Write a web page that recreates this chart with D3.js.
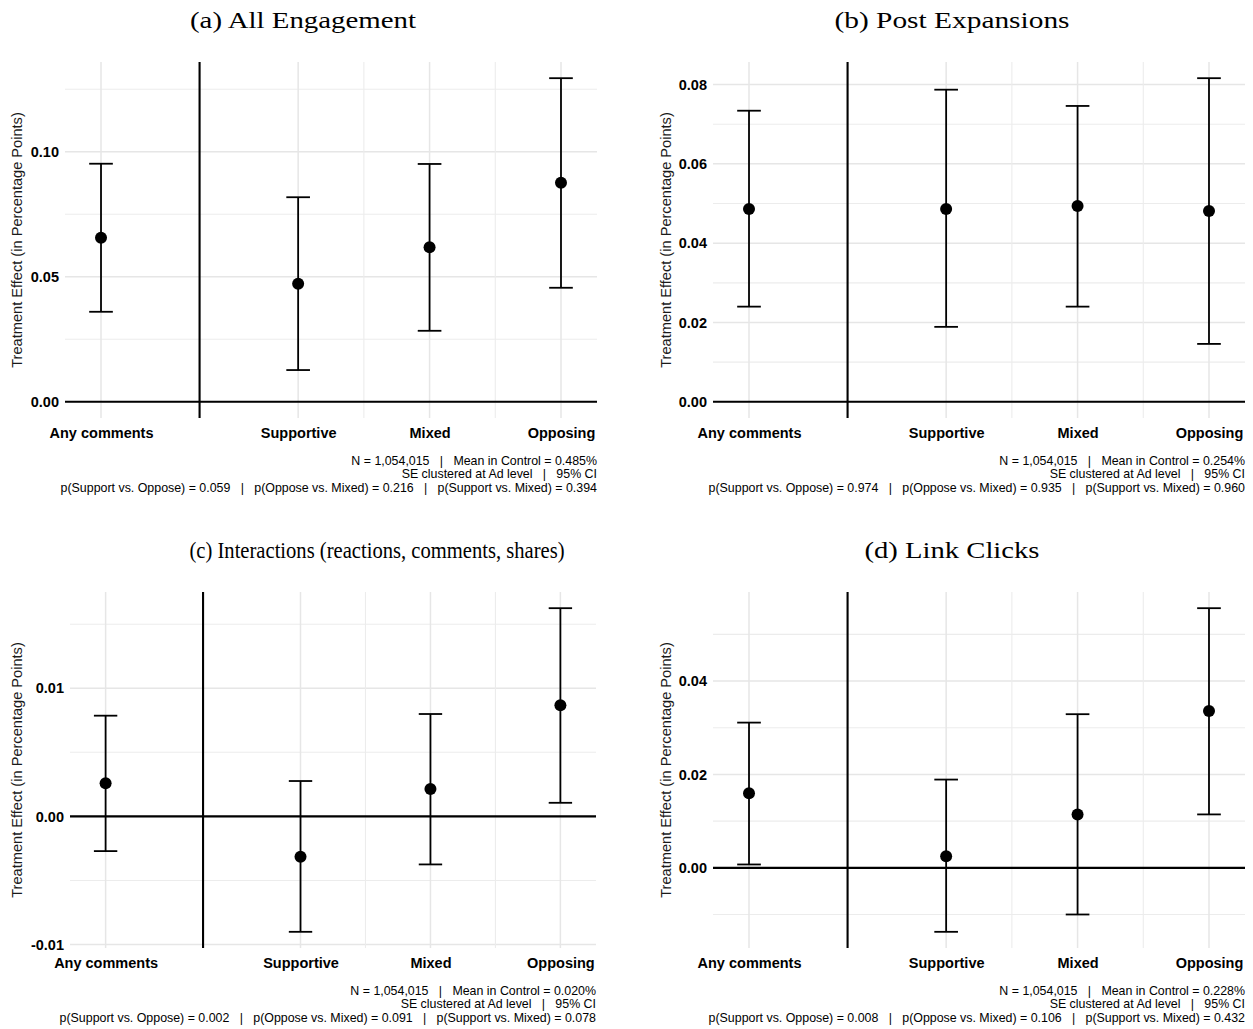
<!DOCTYPE html>
<html>
<head>
<meta charset="utf-8">
<script src="https://cdn.jsdelivr.net/npm/d3@7"></script>
<style>
  html, body { margin: 0; padding: 0; background: #fff; }
  svg { display: block; }
  text { white-space: pre; }
</style>
</head>
<body>
<svg id="fig" width="1253" height="1029"></svg>
<script>
// Treatment groups and their positions on the continuous x scale
const categories = ["Any comments", "Supportive", "Mixed", "Opposing"];
const categoryPositions = [0, 1.5, 2.5, 3.5];
const dividerPosition = 0.75;
const capHalfWidth = 0.09;

// (a) All Engagement
const engagementEstimate = [0.0656, 0.0472, 0.0618, 0.0876];
const engagementLower    = [0.0360, 0.0127, 0.0284, 0.0456];
const engagementUpper    = [0.0952, 0.0818, 0.0951, 0.1294];
const engagementTicks    = [0.00, 0.05, 0.10];
const engagementMinor    = [0.025, 0.075, 0.125];

// (b) Post Expansions
const expansionEstimate = [0.0486, 0.0486, 0.0494, 0.0481];
const expansionLower    = [0.0240, 0.0189, 0.0240, 0.0146];
const expansionUpper    = [0.0734, 0.0787, 0.0746, 0.0816];
const expansionTicks    = [0.00, 0.02, 0.04, 0.06, 0.08];
const expansionMinor    = [0.01, 0.03, 0.05, 0.07];

// (c) Interactions
const interactionEstimate = [0.00258, -0.00316, 0.00213, 0.00867];
const interactionLower    = [-0.00271, -0.00901, -0.00375, 0.00106];
const interactionUpper    = [0.00786, 0.00276, 0.00799, 0.01625];
const interactionTicks    = [-0.01, 0.00, 0.01];
const interactionMinor    = [-0.005, 0.005, 0.015];

// (d) Link Clicks
const clickEstimate = [0.01595, 0.0025, 0.01144, 0.0336];
const clickLower    = [0.00072, -0.0137, -0.00999, 0.01144];
const clickUpper    = [0.0311, 0.0189, 0.0329, 0.0556];
const clickTicks    = [0.00, 0.02, 0.04];
const clickMinor    = [-0.01, 0.01, 0.03, 0.05];

const panelTitles = [
  "(a) All Engagement",
  "(b) Post Expansions",
  "(c) Interactions (reactions, comments, shares)",
  "(d) Link Clicks"
];

const footnoteLines = [
  ["N = 1,054,015   |   Mean in Control = 0.485%",
   "SE clustered at Ad level   |   95% CI",
   "p(Support vs. Oppose) = 0.059   |   p(Oppose vs. Mixed) = 0.216   |   p(Support vs. Mixed) = 0.394"],
  ["N = 1,054,015   |   Mean in Control = 0.254%",
   "SE clustered at Ad level   |   95% CI",
   "p(Support vs. Oppose) = 0.974   |   p(Oppose vs. Mixed) = 0.935   |   p(Support vs. Mixed) = 0.960"],
  ["N = 1,054,015   |   Mean in Control = 0.020%",
   "SE clustered at Ad level   |   95% CI",
   "p(Support vs. Oppose) = 0.002   |   p(Oppose vs. Mixed) = 0.091   |   p(Support vs. Mixed) = 0.078"],
  ["N = 1,054,015   |   Mean in Control = 0.228%",
   "SE clustered at Ad level   |   95% CI",
   "p(Support vs. Oppose) = 0.008   |   p(Oppose vs. Mixed) = 0.106   |   p(Support vs. Mixed) = 0.432"]
];

const yAxisTitle = "Treatment Effect (in Percentage Points)";

// Panel frames on the page
const layouts = [
  { left: 65,  right: 597,  top: 62,  bottom: 418, titleX: 303, titleW: 226, yTitleX: 22 },
  { left: 713, right: 1245, top: 62,  bottom: 418, titleX: 952, titleW: 235, yTitleX: 671 },
  { left: 70,  right: 596,  top: 592, bottom: 948, titleX: 377, titleW: 375, yTitleX: 22 },
  { left: 713, right: 1245, top: 592, bottom: 948, titleX: 952, titleW: 175, yTitleX: 671 }
];

const panels = [
  { est: engagementEstimate, lo: engagementLower, hi: engagementUpper, ticks: engagementTicks, minor: engagementMinor },
  { est: expansionEstimate, lo: expansionLower, hi: expansionUpper, ticks: expansionTicks, minor: expansionMinor },
  { est: interactionEstimate, lo: interactionLower, hi: interactionUpper, ticks: interactionTicks, minor: interactionMinor },
  { est: clickEstimate, lo: clickLower, hi: clickUpper, ticks: clickTicks, minor: clickMinor }
];

const svg = d3.select("#fig");
const sans = "'Liberation Sans', Arial, Helvetica, sans-serif";
const serif = "'Liberation Serif', 'Times New Roman', serif";

// padded domain: 5% of the data range on each side
function padded(lo, hi) {
  const r = hi - lo;
  return [lo - 0.05 * r, hi + 0.05 * r];
}

panels.forEach((p, i) => {
  const L = layouts[i];
  const rows = categories.map((c, k) => ({
    cat: c, pos: categoryPositions[k], est: p.est[k], lo: p.lo[k], hi: p.hi[k]
  }));

  const xMin = d3.min(categoryPositions) - capHalfWidth;
  const xMax = d3.max(categoryPositions) + capHalfWidth;
  const x = d3.scaleLinear().domain(padded(xMin, xMax)).range([L.left, L.right]);

  const yMin = Math.min(0, d3.min(p.lo));
  const yMax = Math.max(0, d3.max(p.hi));
  const y = d3.scaleLinear().domain(padded(yMin, yMax)).range([L.bottom, L.top]);

  const g = svg.append("g");

  // title
  g.append("text")
    .attr("x", L.titleX).attr("y", L.top - 34)
    .attr("text-anchor", "middle")
    .attr("font-family", serif).attr("font-size", 24)
    .attr("textLength", L.titleW).attr("lengthAdjust", "spacingAndGlyphs")
    .attr("fill", "#000")
    .text(panelTitles[i]);

  // grid
  const grid = g.append("g");
  grid.selectAll("line.hmin").data(p.minor).join("line")
    .attr("x1", L.left).attr("x2", L.right)
    .attr("y1", d => y(d)).attr("y2", d => y(d))
    .attr("stroke", "#ececec").attr("stroke-width", 1.1);
  grid.selectAll("line.hmaj").data(p.ticks).join("line")
    .attr("x1", L.left).attr("x2", L.right)
    .attr("y1", d => y(d)).attr("y2", d => y(d))
    .attr("stroke", "#e6e6e6").attr("stroke-width", 1.5);
  const xMinor = [dividerPosition, 2, 3];
  grid.selectAll("line.vmin").data(xMinor).join("line")
    .attr("x1", d => x(d)).attr("x2", d => x(d))
    .attr("y1", L.top).attr("y2", L.bottom)
    .attr("stroke", "#ececec").attr("stroke-width", 1.1);
  grid.selectAll("line.vmaj").data(categoryPositions).join("line")
    .attr("x1", d => x(d)).attr("x2", d => x(d))
    .attr("y1", L.top).attr("y2", L.bottom)
    .attr("stroke", "#e6e6e6").attr("stroke-width", 1.5);

  // y axis labels
  const yAxis = d3.axisLeft(y).tickValues(p.ticks).tickSize(0).tickPadding(6)
    .tickFormat(d3.format(".2f"));
  const ya = g.append("g").attr("transform", `translate(${L.left},0)`).call(yAxis);
  ya.select(".domain").remove();
  ya.selectAll("text")
    .attr("font-family", sans).attr("font-size", 14.5).attr("font-weight", "bold")
    .attr("fill", "#000")
    .text(d => d3.format(".2f")(d).replace("\u2212", "-"));

  // x axis labels
  const xAxis = d3.axisBottom(x).tickValues(categoryPositions).tickSize(0).tickPadding(0)
    .tickFormat((d, k) => categories[k]);
  const xa = g.append("g").attr("transform", `translate(0,${L.bottom})`).call(xAxis);
  xa.select(".domain").remove();
  xa.selectAll("text")
    .attr("dy", null).attr("y", 19.5)
    .attr("font-family", sans).attr("font-size", 14.5).attr("font-weight", "bold")
    .attr("fill", "#000");

  // y axis title
  g.append("text")
    .attr("transform", `translate(${L.yTitleX},${(L.top + L.bottom) / 2}) rotate(-90)`)
    .attr("text-anchor", "middle")
    .attr("font-family", sans).attr("font-size", 14.6)
    .attr("fill", "#1a1a1a")
    .text(yAxisTitle);

  // zero line and divider
  g.append("line")
    .attr("x1", L.left).attr("x2", L.right)
    .attr("y1", y(0)).attr("y2", y(0))
    .attr("stroke", "#000").attr("stroke-width", 2.1);
  g.append("line")
    .attr("x1", x(dividerPosition)).attr("x2", x(dividerPosition))
    .attr("y1", L.top).attr("y2", L.bottom)
    .attr("stroke", "#000").attr("stroke-width", 2.1);

  // error bars
  const eb = g.append("g").attr("stroke", "#000").attr("stroke-width", 1.8).attr("fill", "none");
  eb.selectAll("line.v").data(rows).join("line")
    .attr("x1", d => x(d.pos)).attr("x2", d => x(d.pos))
    .attr("y1", d => y(d.lo)).attr("y2", d => y(d.hi));
  eb.selectAll("line.capHi").data(rows).join("line")
    .attr("x1", d => x(d.pos - capHalfWidth)).attr("x2", d => x(d.pos + capHalfWidth))
    .attr("y1", d => y(d.hi)).attr("y2", d => y(d.hi));
  eb.selectAll("line.capLo").data(rows).join("line")
    .attr("x1", d => x(d.pos - capHalfWidth)).attr("x2", d => x(d.pos + capHalfWidth))
    .attr("y1", d => y(d.lo)).attr("y2", d => y(d.lo));

  // point estimates
  g.selectAll("circle.pt").data(rows).join("circle")
    .attr("cx", d => x(d.pos)).attr("cy", d => y(d.est))
    .attr("r", 6).attr("fill", "#000");

  // footnote
  g.selectAll("text.note").data(footnoteLines[i]).join("text")
    .attr("x", L.right).attr("y", (d, k) => L.bottom + 47 + k * 13.3)
    .attr("text-anchor", "end")
    .attr("font-family", sans).attr("font-size", 12.4)
    .attr("fill", "#000")
    .text(d => d);
});
</script>
</body>
</html>
